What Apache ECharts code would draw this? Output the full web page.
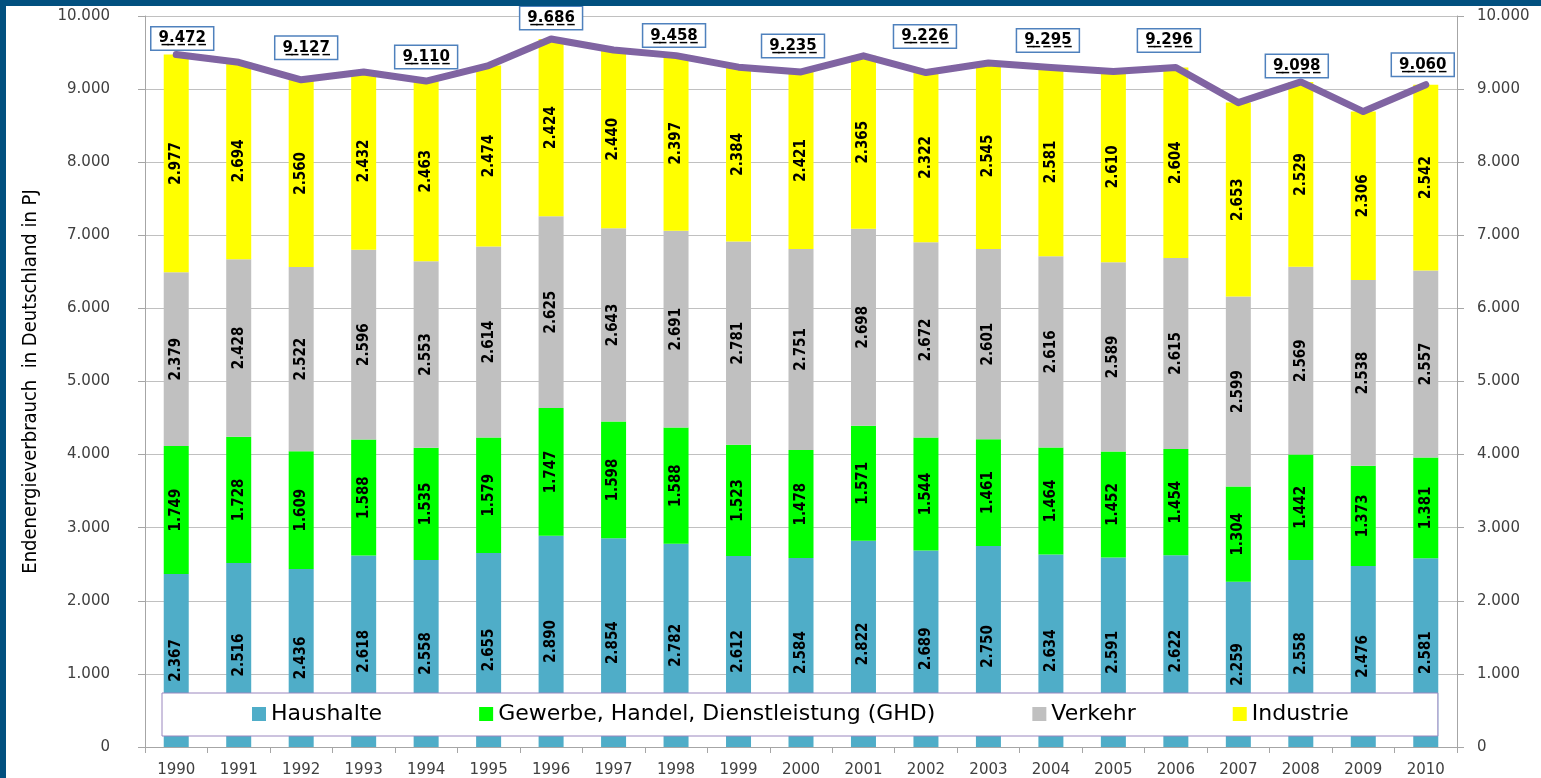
<!DOCTYPE html>
<html>
<head>
<meta charset="utf-8">
<script src="https://cdn.jsdelivr.net/npm/echarts@6/dist/echarts.min.js"></script>
<style>
  html, body { margin: 0; padding: 0; background: #fff; }
  #chart { position: absolute; left: 0; top: 0; width: 1541px; height: 778px; }
  .edge { position: absolute; background: #02507f; }
</style>
</head>
<body>
<div id="chart"></div>
<div class="edge" style="left:0;top:0;width:1541px;height:6px"></div>
<div class="edge" style="left:0;top:0;width:6px;height:778px"></div>
<script>
// Jahre
const years = ['1990', '1991', '1992', '1993', '1994', '1995', '1996', '1997', '1998', '1999', '2000',
  '2001', '2002', '2003', '2004', '2005', '2006', '2007', '2008', '2009', '2010']

// Endenergieverbrauch in PJ je Sektor
const haushalte = [2367, 2516, 2436, 2618, 2558, 2655, 2890, 2854, 2782, 2612, 2584, 2822, 2689, 2750, 2634, 2591, 2622, 2259, 2558, 2476, 2581]
const ghd = [1749, 1728, 1609, 1588, 1535, 1579, 1747, 1598, 1588, 1523, 1478, 1571, 1544, 1461, 1464, 1452, 1454, 1304, 1442, 1373, 1381]
const verkehr = [2379, 2428, 2522, 2596, 2553, 2614, 2625, 2643, 2691, 2781, 2751, 2698, 2672, 2601, 2616, 2589, 2615, 2599, 2569, 2538, 2557]
const industrie = [2977, 2694, 2560, 2432, 2463, 2474, 2424, 2440, 2397, 2384, 2421, 2365, 2322, 2545, 2581, 2610, 2604, 2653, 2529, 2306, 2542]

// Summe (Linie)
const gesamt = [9472, 9366, 9127, 9234, 9110, 9322, 9686, 9535, 9458, 9300, 9235, 9456, 9226, 9357, 9295, 9242, 9296, 8815, 9098, 8693, 9060]

// Beschriftung der Summe nur jedes zweite Jahr, leicht versetzt
const labelShift = {
  0: [6, -16], 2: [5, -32], 4: [0, -24], 6: [0, -21], 8: [-2, -20], 10: [-8, -26],
  12: [-1, -36], 14: [-3, -27], 16: [-7, -27], 18: [-4, -16], 20: [-3, -20]
}

const fmt = v => String(v).replace(/\B(?=(\d{3})+(?!\d))/g, '.')
const underline = s => s.split('').map(c => c + '\u0332').join('')

const axisFont = 'DejaVu Sans'
const barFont = '"Liberation Sans Narrow", "DejaVu Sans Condensed", "Liberation Sans", sans-serif'

const chart = echarts.init(document.getElementById('chart'))

const barLabel = {
  show: true,
  position: 'inside',
  rotate: 90,
  color: '#000',
  fontFamily: barFont,
  fontWeight: 'bold',
  fontSize: 15,
  formatter: p => fmt(p.value)
}

const makeBar = (name, data, color) => ({
  name,
  type: 'bar',
  stack: 'total',
  barWidth: 25,
  data,
  itemStyle: { color },
  label: barLabel
})

const option = {
  animation: false,
  backgroundColor: '#fff',
  grid: { left: 145, right: 84, top: 16, bottom: 28 },
  legend: {
    data: ['Haushalte', 'Gewerbe, Handel, Dienstleistung (GHD)', 'Verkehr', 'Industrie'],
    left: 162,
    top: 693,
    padding: [10, 89, 11, 90],
    itemGap: 97,
    itemWidth: 14,
    itemHeight: 14,
    icon: 'rect',
    backgroundColor: '#fff',
    borderColor: '#9a86be',
    borderWidth: 1,
    textStyle: { fontFamily: axisFont, fontSize: 22, color: '#000' }
  },
  xAxis: {
    type: 'category',
    data: years,
    axisLine: { lineStyle: { color: '#a6a6a6' } },
    axisTick: { show: true, length: 6, lineStyle: { color: '#a6a6a6' } },
    axisLabel: { margin: 16, fontFamily: axisFont, fontSize: 15, color: '#404040' }
  },
  yAxis: [
    {
      type: 'value',
      min: 0,
      max: 10000,
      interval: 1000,
      name: 'Endenergieverbrauch  in Deutschland in PJ',
      nameLocation: 'middle',
      nameGap: 104,
      nameRotate: 90,
      nameTextStyle: { fontFamily: barFont, fontSize: 20, color: '#000' },
      axisLine: { show: true, lineStyle: { color: '#a6a6a6' } },
      axisTick: { show: true, length: 7, lineStyle: { color: '#a6a6a6' } },
      axisLabel: { margin: 35, fontFamily: axisFont, fontSize: 15, color: '#404040', formatter: fmt },
      splitLine: { lineStyle: { color: '#c0c0c0' } }
    },
    {
      type: 'value',
      position: 'right',
      min: 0,
      max: 10000,
      interval: 1000,
      axisLine: { show: true, lineStyle: { color: '#a6a6a6' } },
      axisTick: { show: true, length: 7, lineStyle: { color: '#a6a6a6' } },
      axisLabel: { margin: 20, fontFamily: axisFont, fontSize: 15, color: '#404040', formatter: fmt },
      splitLine: { show: false }
    }
  ],
  series: [
    makeBar('Haushalte', haushalte, '#4fadc8'),
    makeBar('Gewerbe, Handel, Dienstleistung (GHD)', ghd, '#00ff00'),
    makeBar('Verkehr', verkehr, '#c0c0c0'),
    makeBar('Industrie', industrie, '#ffff00'),
    {
      name: 'Gesamt',
      type: 'line',
      z: 5,
      data: gesamt.map((v, i) => ({
        value: v,
        label: labelShift[i] ? { show: true, offset: labelShift[i] } : { show: false }
      })),
      symbol: 'circle',
      symbolSize: 1,
      showSymbol: true,
      itemStyle: { color: '#8064a2' },
      lineStyle: { color: '#8064a2', width: 7, join: 'round', cap: 'round' },
      label: {
        position: 'inside',
        formatter: p => underline(fmt(p.value)),
        fontFamily: axisFont,
        fontWeight: 'bold',
        fontSize: 15,
        color: '#000',
        backgroundColor: '#fff',
        borderColor: '#4f81bd',
        borderWidth: 1.5,
        padding: [4, 7, 3, 7]
      }
    }
  ]
}

chart.setOption(option)
</script>
</body>
</html>
